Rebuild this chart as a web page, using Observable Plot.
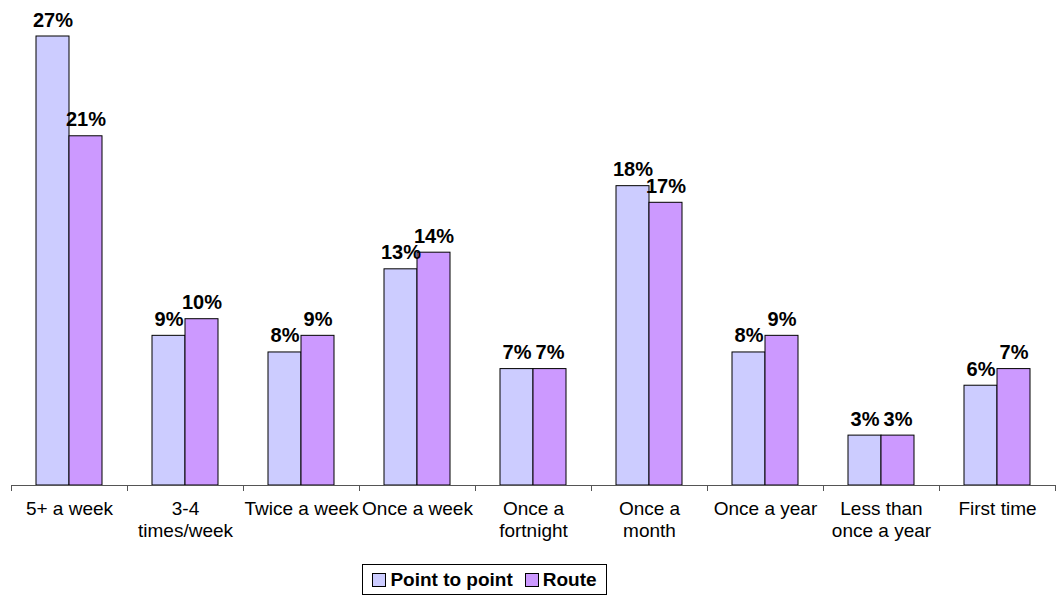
<!DOCTYPE html>
<html>
<head>
<meta charset="utf-8">
<script src="https://cdn.jsdelivr.net/npm/d3@7"></script>
<script src="https://cdn.jsdelivr.net/npm/@observablehq/plot@0.6"></script>
<style>
  body { margin: 0; background: #fff; font-family: "Liberation Sans", Arial, sans-serif; overflow: hidden; }
  #wrap { position: relative; width: 1058px; height: 596px; overflow: hidden; }
  #legend { position: absolute; left: 362px; top: 564px; width: 245px; height: 31px; border: 1px solid #000;
    display: flex; align-items: center; justify-content: center; gap: 12px; font-weight: bold; font-size: 19px; box-sizing: border-box; }
  .sw { display: inline-block; width: 12px; height: 12px; border: 1px solid #000; margin-right: 4px; vertical-align: -1px; }
</style>
</head>
<body>
<div id="wrap"><div id="chart"></div><div id="legend"></div></div>
<script>
const categories = ["5+ a week", "3-4\ntimes/week", "Twice a week", "Once a week", "Once a\nfortnight", "Once a\nmonth", "Once a year", "Less than\nonce a year", "First time"];
const series = ["Point to point", "Route"];
const pointToPoint = [27, 9, 8, 13, 7, 18, 8, 3, 6];
const route = [21, 10, 9, 14, 7, 17, 9, 3, 7];
const colors = ["#CCCCFF", "#CC99FF"];

const data = [];
categories.forEach((c, i) => {
  data.push({category: c, series: series[0], value: pointToPoint[i]});
  data.push({category: c, series: series[1], value: route[i]});
});

const W = 1058, mL = 11, mR = 3;
const step = (W - mL - mR) / categories.length;

const plot = Plot.plot({
  width: W,
  height: 545,
  marginLeft: mL,
  marginRight: mR,
  marginTop: 36,
  marginBottom: 60,
  style: {fontFamily: "'Liberation Sans', Arial, sans-serif", background: "#fff", overflow: "visible"},
  fx: {domain: categories, padding: 0, axis: null, label: null},
  x: {domain: series, paddingInner: 0, paddingOuter: 0.706, axis: null},
  y: {domain: [0, 27], axis: null},
  color: {domain: series, range: colors},
  marks: [
    Plot.barY(data, {fx: "category", x: "series", y: "value", fill: "series", stroke: "#000", strokeWidth: 1}),
    Plot.ruleY([0], {stroke: "#555", strokeWidth: 1}),
    Plot.text(data, {fx: "category", x: "series", y: "value", text: d => d.value + "%", dy: -10, lineAnchor: "bottom", fontWeight: "bold", fontSize: 20, fill: "#000"}),
    Plot.axisFx({anchor: "bottom", tickSize: 0, tickPadding: 14, fontSize: 19, lineHeight: 1.15, label: null, fill: "#000"}),
    Plot.axisFx({anchor: "bottom", tickSize: 6, tickFormat: () => "", dx: -step / 2, label: null, stroke: "#555"}),
    Plot.axisFx({anchor: "bottom", ticks: [categories[categories.length - 1]], tickSize: 6, tickFormat: () => "", dx: step / 2, label: null, stroke: "#555"})
  ]
});
document.getElementById("chart").appendChild(plot);

const legend = document.getElementById("legend");
series.forEach((s, i) => {
  const span = document.createElement("span");
  const sw = document.createElement("span");
  sw.className = "sw";
  sw.style.background = colors[i];
  span.appendChild(sw);
  span.appendChild(document.createTextNode(s));
  legend.appendChild(span);
});
</script>
</body>
</html>
